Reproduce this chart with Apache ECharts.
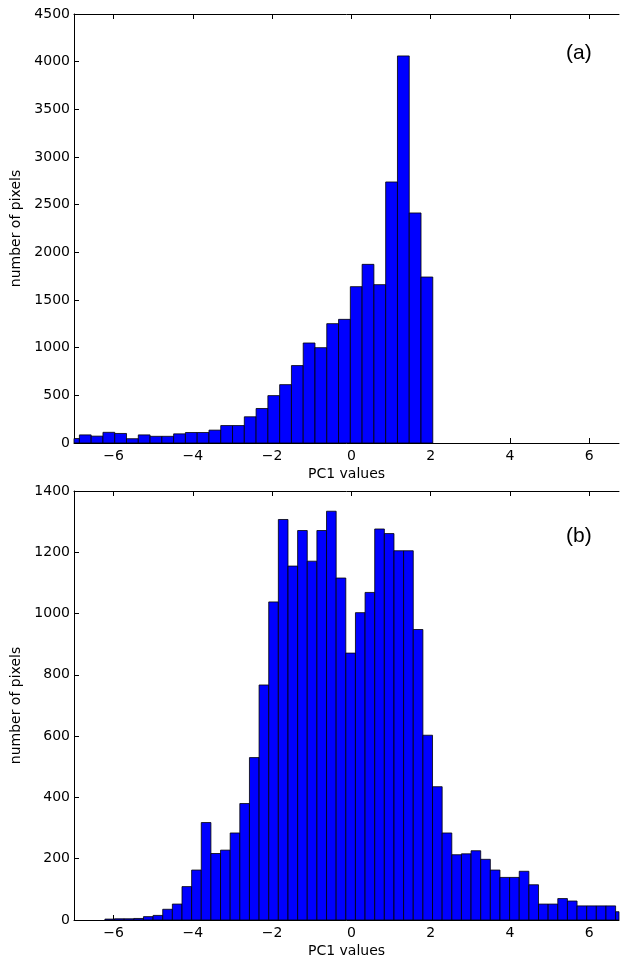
<!DOCTYPE html>
<html>
<head>
<meta charset="utf-8">
<script src="https://cdn.jsdelivr.net/npm/echarts@6/dist/echarts.min.js"></script>
<style>
  html, body { margin: 0; padding: 0; background: #ffffff; }
  #chart { width: 620px; height: 966px; }
</style>
</head>
<body>
<div id="chart"></div>
<script>
// Histogram (a): first bin edge, bin width and counts per bin
const binStartA = -7.161;
const binWidthA = 0.2972;
const countsA = [47, 85, 72, 112, 100, 45, 85, 70, 70, 96, 110, 110, 135, 183, 183,
                 275, 362, 497, 612, 812, 1049, 1000, 1252, 1297, 1640, 1874, 1661,
                 2738, 4060, 2413, 1741];

// Histogram (b): first bin edge, bin width and counts per bin
const binStartB = -6.220;
const binWidthB = 0.2431;
const countsB = [3, 4, 4, 5, 11, 15, 35, 52, 109, 163, 318, 217, 228, 284, 380,
                 530, 767, 1038, 1307, 1155, 1271, 1171, 1271, 1334, 1116, 871, 1003,
                 1069, 1276, 1261, 1205, 1205, 948, 603,
                 435, 284, 213, 216, 226, 198, 163, 139, 139, 159, 115, 52, 52, 70, 62,
                 46, 46, 46, 46, 27];

// Axis ranges and tick values
const xRange = [-7, 6.75];
const xTicks = [-6, -4, -2, 0, 2, 4, 6];
const yMaxA = 4500, yStepA = 500;
const yMaxB = 1400, yStepB = 200;

const panelLabels = ['(a)', '(b)'];
const xName = 'PC1 values';
const yName = 'number of pixels';

function toBins(start, width, counts) {
  return counts.map((c, i) => [start + i * width, start + (i + 1) * width, c]);
}

const tickFont = { fontFamily: 'DejaVu Sans', fontSize: 14, color: '#000' };
const nameFont = { fontFamily: 'DejaVu Sans', fontSize: 14, color: '#000' };

function minusFmt(v) {
  return v < 0 ? '\u2212' + Math.abs(v) : String(v);
}

function renderBar(params, api) {
  const x0 = api.value(0), x1 = api.value(1), c = api.value(2);
  const p0 = api.coord([x0, 0]);
  const p1 = api.coord([x1, c]);
  const cs = params.coordSys;
  const rect = echarts.graphic.clipRectByRect(
    { x: p0[0], y: p1[1], width: p1[0] - p0[0], height: p0[1] - p1[1] },
    { x: cs.x, y: cs.y, width: cs.width, height: cs.height }
  );
  if (!rect) return null;
  return {
    type: 'rect',
    shape: rect,
    style: { fill: '#0000ff', stroke: '#000000', lineWidth: 0.8 }
  };
}

const grids = [
  { left: 74, top: 14, width: 545, height: 429 },
  { left: 74, top: 491, width: 545, height: 429 }
];

function bottomX(gi) {
  return {
    type: 'value', gridIndex: gi, position: 'bottom',
    min: xRange[0], max: xRange[1],
    name: xName, nameLocation: 'middle', nameGap: 24, nameTextStyle: nameFont,
    axisLine: { show: true, onZero: false, lineStyle: { color: '#000', width: 1 } },
    axisTick: { show: true, inside: true, length: 5, customValues: xTicks, lineStyle: { color: '#000' } },
    axisLabel: { show: true, margin: 6, customValues: xTicks, formatter: minusFmt, ...tickFont },
    splitLine: { show: false }
  };
}
function topX(gi) {
  return {
    type: 'value', gridIndex: gi, position: 'top',
    min: xRange[0], max: xRange[1],
    axisLine: { show: true, onZero: false, lineStyle: { color: '#000', width: 1 } },
    axisTick: { show: true, inside: true, length: 5, customValues: xTicks, lineStyle: { color: '#000' } },
    axisLabel: { show: false },
    splitLine: { show: false }
  };
}
function leftY(gi, max, step) {
  return {
    type: 'value', gridIndex: gi, position: 'left',
    min: 0, max: max, interval: step,
    name: yName, nameLocation: 'middle', nameGap: 46, nameRotate: 90, nameTextStyle: nameFont,
    axisLine: { show: true, onZero: false, lineStyle: { color: '#000', width: 1 } },
    axisTick: { show: true, inside: true, length: 5, lineStyle: { color: '#000' } },
    axisLabel: { show: true, margin: 4, formatter: (v) => String(v), ...tickFont },
    splitLine: { show: false }
  };
}

const option = {
  animation: false,
  backgroundColor: '#ffffff',
  grid: grids,
  xAxis: [bottomX(0), topX(0), bottomX(1), topX(1)],
  yAxis: [leftY(0, yMaxA, yStepA), leftY(1, yMaxB, yStepB)],
  title: [
    { text: panelLabels[0], left: 561, top: 38,
      textStyle: { fontFamily: 'Liberation Sans', fontSize: 21, fontWeight: 'normal', color: '#000' } },
    { text: panelLabels[1], left: 561, top: 521,
      textStyle: { fontFamily: 'Liberation Sans', fontSize: 21, fontWeight: 'normal', color: '#000' } }
  ],
  series: [
    { type: 'custom', xAxisIndex: 0, yAxisIndex: 0, renderItem: renderBar,
      encode: { x: [0, 1], y: 2 }, data: toBins(binStartA, binWidthA, countsA) },
    { type: 'custom', xAxisIndex: 2, yAxisIndex: 1, renderItem: renderBar,
      encode: { x: [0, 1], y: 2 }, data: toBins(binStartB, binWidthB, countsB) }
  ]
};

echarts.init(document.getElementById('chart')).setOption(option);
</script>
</body>
</html>
